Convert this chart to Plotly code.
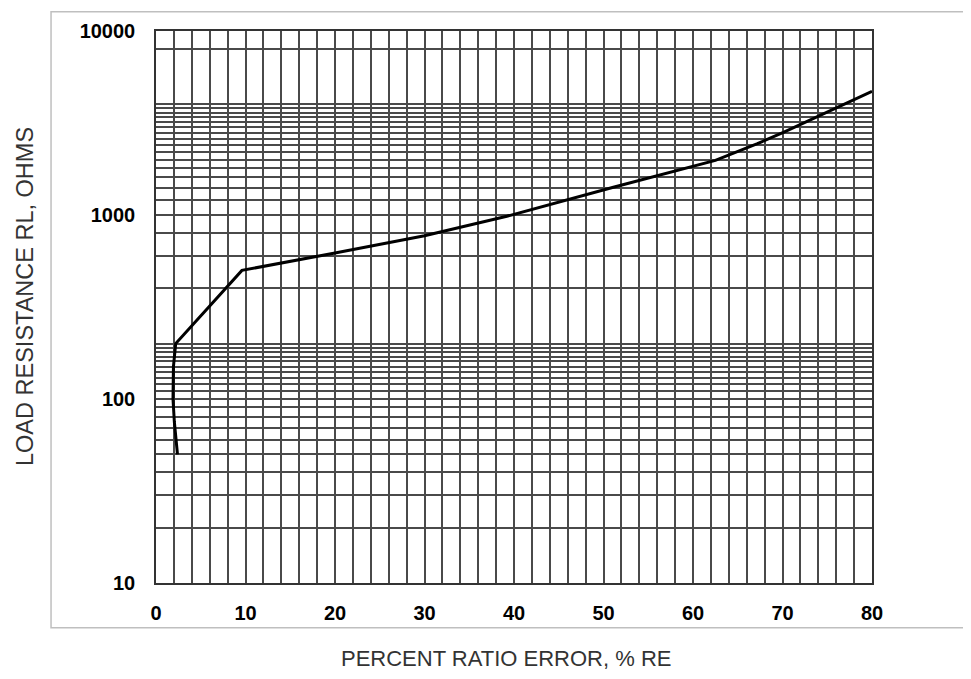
import plotly.graph_objects as go

# Data
ratio_error = [2.4, 2.05, 1.9, 1.95, 2.2, 9.6, 20, 27.3, 30, 39.2, 51.1, 62.5, 67.2, 70.1, 80]
load_res = [50, 75, 100, 150, 200, 500, 622, 730, 772, 984, 1415, 1980, 2440, 2810, 4700]

x_major = [0, 10, 20, 30, 40, 50, 60, 70, 80]
y_major = [10, 100, 1000, 10000]
y_major_text = ["10", "100", "1000", "10000"]
y_minor = ([20, 30, 40, 50, 60, 70, 80, 90]
           + [110, 120, 130, 140, 150, 160, 170, 180, 190, 200, 400, 600, 800]
           + [1200, 1400, 1600, 1800, 2000, 2200, 2400, 2600, 2800, 3000,
              3200, 3400, 3600, 3800, 4000, 8000])

GRID = "#4a4a4a"
TICKFONT = dict(family="Liberation Sans", size=20, color="black", weight="bold")

fig = go.Figure()
fig.add_trace(go.Scatter(x=ratio_error, y=load_res, mode="lines",
                         line=dict(color="black", width=3), showlegend=False,
                         hoverinfo="skip"))

fig.update_layout(
    width=955, height=663,
    margin=dict(l=148, r=91, t=20, b=88),
    paper_bgcolor="white", plot_bgcolor="white",
    font=dict(family="Liberation Sans", color="black"),
    xaxis=dict(range=[0, 80], tickmode="array", tickvals=x_major,
               showgrid=True, gridcolor=GRID, gridwidth=1.5,
               minor=dict(dtick=2, tick0=0, showgrid=True, gridcolor=GRID, gridwidth=1.5),
               showline=True, linecolor="#333333", linewidth=1.5, mirror=True,
               zeroline=False, ticks="", ticklabelstandoff=11,
               tickfont=TICKFONT),
    yaxis=dict(type="log", range=[1, 4], tickmode="array", tickvals=y_major,
               ticktext=y_major_text,
               showgrid=True, gridcolor=GRID, gridwidth=1.5,
               minor=dict(tickmode="array", tickvals=y_minor, showgrid=True,
                          gridcolor=GRID, gridwidth=1.5),
               showline=True, linecolor="#333333", linewidth=1.5, mirror=True,
               zeroline=False, ticks="", ticklabelstandoff=15,
               tickfont=TICKFONT),
    annotations=[
        dict(text="PERCENT RATIO ERROR, % RE", xref="paper", yref="paper",
             x=0.4895, y=-0.136, showarrow=False, xanchor="center", yanchor="middle",
             font=dict(family="Liberation Sans", size=22, color="#333333")),
        dict(text="LOAD RESISTANCE RL, OHMS", xref="paper", yref="paper",
             x=-0.1837, y=0.519, textangle=-90, showarrow=False,
             xanchor="center", yanchor="middle",
             font=dict(family="Liberation Sans", size=23.5, color="#333333")),
    ],
    shapes=[
        dict(type="rect", xref="paper", yref="paper",
             x0=-0.1466, x1=1.2, y0=-0.081, y1=1.035,
             line=dict(color="#bfbfbf", width=1.5), fillcolor="rgba(0,0,0,0)",
             layer="below"),
    ],
)

fig.write_html("out.html")
